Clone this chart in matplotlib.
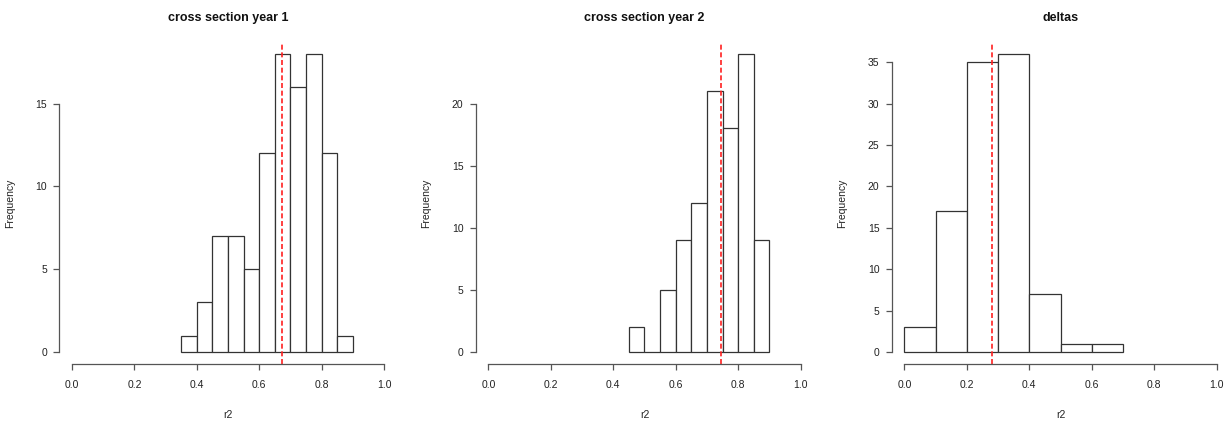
import numpy as np
import matplotlib
matplotlib.use("Agg")
import matplotlib.pyplot as plt

plt.rcParams['font.family'] = ['Liberation Sans', 'DejaVu Sans']

titles = ["cross section year 1", "cross section year 2", "deltas"]

edges1 = [0.35, 0.40, 0.45, 0.50, 0.55, 0.60, 0.65, 0.70, 0.75, 0.80, 0.85, 0.90]
counts1 = [1, 3, 7, 7, 5, 12, 18, 16, 18, 12, 1]
mean1 = 0.672

edges2 = [0.45, 0.50, 0.55, 0.60, 0.65, 0.70, 0.75, 0.80, 0.85, 0.90]
counts2 = [2, 0, 5, 9, 12, 21, 18, 24, 9]
mean2 = 0.745

edges3 = [0.0, 0.1, 0.2, 0.3, 0.4, 0.5, 0.6, 0.7]
counts3 = [3, 17, 35, 36, 7, 1, 1]
mean3 = 0.282

xticks = [0.0, 0.2, 0.4, 0.6, 0.8, 1.0]
xticklabels = ["0.0", "0.2", "0.4", "0.6", "0.8", "1.0"]
yticks1 = [0, 5, 10, 15]
yticks2 = [0, 5, 10, 15, 20]
yticks3 = [0, 5, 10, 15, 20, 25, 30, 35]

panels = [
    (edges1, counts1, mean1, yticks1),
    (edges2, counts2, mean2, yticks2),
    (edges3, counts3, mean3, yticks3),
]

W, H = 1230, 421
fig = plt.figure(figsize=(W / 100, H / 100), dpi=100)

lefts = [59.5, 476.0, 892.0]
ax_w = 337.0
ax_top = 42.0
ax_bot = 364.0

axis_color = "#555555"
text_color = "#222222"

for i, (edges, counts, mean, yticks) in enumerate(panels):
    ax = fig.add_axes([lefts[i] / W, (H - ax_bot) / H, ax_w / W, (ax_bot - ax_top) / H])
    e = np.array(edges)
    ax.bar(e[:-1], counts, width=np.diff(e), align='edge', facecolor='white',
           edgecolor='#333333', linewidth=0.9)
    ymax = max(counts)
    ax.set_xlim(-0.04, 1.04)
    ax.set_ylim(-0.04 * ymax, 1.04 * ymax)
    ax.axvline(mean, color='#ff2020', linewidth=1.2, linestyle=(0, (3.0, 1.6)))

    for s in ['top', 'right']:
        ax.spines[s].set_visible(False)
    ax.spines['left'].set_bounds(0, yticks[-1])
    ax.spines['bottom'].set_bounds(0, 1)
    for s in ['left', 'bottom']:
        ax.spines[s].set_color(axis_color)
        ax.spines[s].set_linewidth(0.9)

    ax.set_xticks(xticks)
    ax.set_xticklabels(xticklabels)
    ax.set_yticks(yticks)
    ax.set_yticklabels([str(t) for t in yticks])
    ax.tick_params(axis='both', length=4.5, width=0.9, color=axis_color,
                   labelsize=7.5, labelcolor=text_color)
    ax.tick_params(axis='x', pad=7)
    ax.tick_params(axis='y', pad=4.5)

    ax.set_xlabel("r2", fontsize=7.5, color=text_color)
    ax.xaxis.set_label_coords(0.5, -0.143)
    ax.set_ylabel("Frequency", fontsize=7.5, color=text_color)
    ax.yaxis.set_label_coords(-0.132, 0.5)
    ax.text(0.5, 1.075, titles[i], transform=ax.transAxes, ha='center', va='center',
            fontsize=9, fontweight='bold', color='#111111')

fig.savefig("out.png", dpi=100)
